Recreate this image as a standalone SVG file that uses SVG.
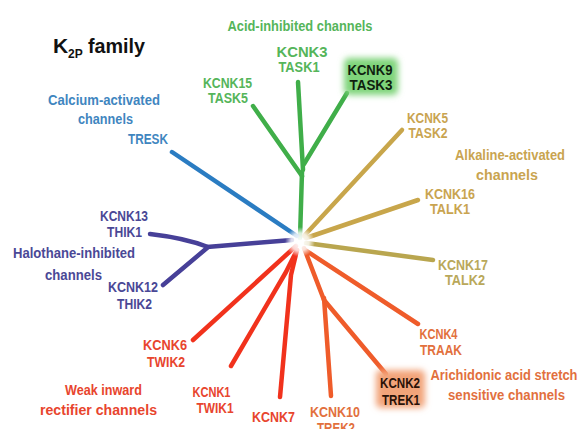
<svg xmlns="http://www.w3.org/2000/svg" width="580" height="429" viewBox="0 0 580 429">
<defs>
<style>
text{font-family:"Liberation Sans",Arial,sans-serif;font-weight:bold;font-size:14.5px;text-anchor:middle}
.br{fill:none;stroke-linecap:round;stroke-linejoin:round;stroke-width:4.5}
.g{stroke:#3fae4a}.b{stroke:#2b7cc2}.p{stroke:#463f98}.r{stroke:#f1321f}.o{stroke:#ef5b2b}.y{stroke:#c8a64b}.y2{stroke:#b9a650}
.tg{fill:#55b55a}.tb{fill:#3f86bf}.tp{fill:#4a4896}.tr{fill:#e8452e}.to{fill:#e2703d}.ty{fill:#c9a450}.ty2{fill:#b9a85a}
</style>
<radialGradient id="glow"><stop offset="0" stop-color="#fff" stop-opacity="1"/><stop offset="0.6" stop-color="#fff" stop-opacity="0.8"/><stop offset="1" stop-color="#fff" stop-opacity="0"/></radialGradient>
<filter id="soft" x="-20%" y="-20%" width="140%" height="140%"><feGaussianBlur stdDeviation="0.6"/></filter>
<filter id="blur" x="-30%" y="-30%" width="160%" height="160%"><feGaussianBlur stdDeviation="3"/></filter>
</defs>
<rect width="580" height="429" fill="#ffffff"/>
<g id="connectors" filter="url(#soft)">
<path class="br g" d="M300,238 L302,172" stroke-width="6"/>
<path class="br g" d="M302,176 L253,106"/>
<path class="br g" d="M303,170 L298,82"/>
<path class="br g" d="M304,164 L347,93"/>
<path class="br b" d="M297,236 L172,152"/>
<path class="br p" d="M292,240 L207,247" stroke-width="6"/>
<path class="br p" d="M208,247 Q185,238 150,234"/>
<path class="br p" d="M207,248 L163,285"/>
<path class="br r" d="M296,246 L193,340" stroke-width="5"/>
<path class="br r" d="M297,250 L286,272 L231,366"/>
<path class="br r" d="M297,250 L291,275 L280,397"/>
<path class="br o" d="M304,248 L324,300" stroke-width="5.5"/>
<path class="br o" d="M324,298 L331,396"/>
<path class="br o" d="M324,300 L386,374"/>
<path class="br o" d="M305,250 L418,324"/>
<path class="br y" d="M304,236 L402,130"/>
<path class="br y" d="M306,238 L418,200"/>
<path class="br y2" d="M306,243 L433,260"/>
<circle cx="300" cy="242" r="15" fill="url(#glow)"/>
</g>
<g id="title"><text x="53" y="53" style="text-anchor:start;font-size:21px" fill="#111">K</text><text x="68" y="58" style="text-anchor:start;font-size:12px" fill="#111">2P</text><text x="88" y="53" style="text-anchor:start;font-size:21px" textLength="57" lengthAdjust="spacingAndGlyphs" fill="#111">family</text></g>
<g id="acid" class="tg"><text x="300" y="31" textLength="145" lengthAdjust="spacingAndGlyphs">Acid-inhibited channels</text></g>
<g id="kcnk3" class="tg"><text x="302" y="57" textLength="51" lengthAdjust="spacingAndGlyphs">KCNK3</text><text x="299" y="72" textLength="41" lengthAdjust="spacingAndGlyphs">TASK1</text></g>
<g id="kcnk15" class="tg"><text x="227.5" y="88" textLength="49" lengthAdjust="spacingAndGlyphs">KCNK15</text><text x="228" y="103" textLength="40" lengthAdjust="spacingAndGlyphs">TASK5</text></g>
<g id="kcnk9"><rect x="344" y="58" width="54" height="37" rx="5" fill="#7fd47a" filter="url(#blur)"/><text x="370" y="75" textLength="45" lengthAdjust="spacingAndGlyphs" fill="#0f1f0f">KCNK9</text><text x="371" y="90" textLength="43" lengthAdjust="spacingAndGlyphs" fill="#0f1f0f">TASK3</text></g>
<g id="calcium" class="tb"><text x="104" y="105" textLength="112" lengthAdjust="spacingAndGlyphs">Calcium-activated</text><text x="105.5" y="124" textLength="55" lengthAdjust="spacingAndGlyphs">channels</text></g>
<g id="tresk" class="tb"><text x="148" y="144" textLength="40" lengthAdjust="spacingAndGlyphs">TRESK</text></g>
<g id="kcnk5" class="ty"><text x="427.5" y="123" textLength="41" lengthAdjust="spacingAndGlyphs">KCNK5</text><text x="428" y="138" textLength="39" lengthAdjust="spacingAndGlyphs">TASK2</text></g>
<g id="alkaline" class="ty"><text x="510" y="160" textLength="110" lengthAdjust="spacingAndGlyphs">Alkaline-activated</text><text x="507" y="180" textLength="62" lengthAdjust="spacingAndGlyphs">channels</text></g>
<g id="kcnk16" class="ty"><text x="450" y="199" textLength="50" lengthAdjust="spacingAndGlyphs">KCNK16</text><text x="450" y="214" textLength="40" lengthAdjust="spacingAndGlyphs">TALK1</text></g>
<g id="kcnk17" class="ty2"><text x="463" y="270" textLength="50" lengthAdjust="spacingAndGlyphs">KCNK17</text><text x="465" y="285" textLength="40" lengthAdjust="spacingAndGlyphs">TALK2</text></g>
<g id="kcnk13" class="tp"><text x="124" y="221" textLength="48" lengthAdjust="spacingAndGlyphs">KCNK13</text><text x="124.5" y="237" textLength="35" lengthAdjust="spacingAndGlyphs">THIK1</text></g>
<g id="halothane" class="tp"><text x="74" y="258" textLength="122" lengthAdjust="spacingAndGlyphs">Halothane-inhibited</text><text x="73.5" y="280" textLength="57" lengthAdjust="spacingAndGlyphs">channels</text></g>
<g id="kcnk12" class="tp"><text x="133" y="292" textLength="50" lengthAdjust="spacingAndGlyphs">KCNK12</text><text x="134.5" y="309" textLength="35" lengthAdjust="spacingAndGlyphs">THIK2</text></g>
<g id="kcnk6" class="tr"><text x="165" y="350" textLength="44" lengthAdjust="spacingAndGlyphs">KCNK6</text><text x="166" y="367" textLength="38" lengthAdjust="spacingAndGlyphs">TWIK2</text></g>
<g id="weak" class="tr"><text x="103.5" y="395" textLength="77" lengthAdjust="spacingAndGlyphs">Weak inward</text><text x="98.5" y="415" textLength="117" lengthAdjust="spacingAndGlyphs">rectifier channels</text></g>
<g id="kcnk1" class="tr"><text x="211.5" y="397" textLength="38" lengthAdjust="spacingAndGlyphs">KCNK1</text><text x="215" y="413" textLength="37" lengthAdjust="spacingAndGlyphs">TWIK1</text></g>
<g id="kcnk7" class="tr"><text x="273.5" y="422" textLength="43" lengthAdjust="spacingAndGlyphs">KCNK7</text></g>
<g id="kcnk10" class="to"><text x="335" y="417" textLength="50" lengthAdjust="spacingAndGlyphs">KCNK10</text><text x="336" y="433" textLength="38" lengthAdjust="spacingAndGlyphs">TREK2</text></g>
<g id="kcnk2"><rect x="376" y="370" width="49" height="38" rx="5" fill="#f2a47a" filter="url(#blur)"/><text x="400" y="388" textLength="40" lengthAdjust="spacingAndGlyphs" fill="#2a1208">KCNK2</text><text x="401" y="405" textLength="38" lengthAdjust="spacingAndGlyphs" fill="#2a1208">TREK1</text></g>
<g id="kcnk4" class="to"><text x="438.5" y="339" textLength="38" lengthAdjust="spacingAndGlyphs">KCNK4</text><text x="441" y="355" textLength="42" lengthAdjust="spacingAndGlyphs">TRAAK</text></g>
<g id="arachidonic" class="to"><text x="504" y="380" textLength="147" lengthAdjust="spacingAndGlyphs">Arichidonic acid stretch</text><text x="506.5" y="400" textLength="117" lengthAdjust="spacingAndGlyphs">sensitive channels</text></g>
</svg>
